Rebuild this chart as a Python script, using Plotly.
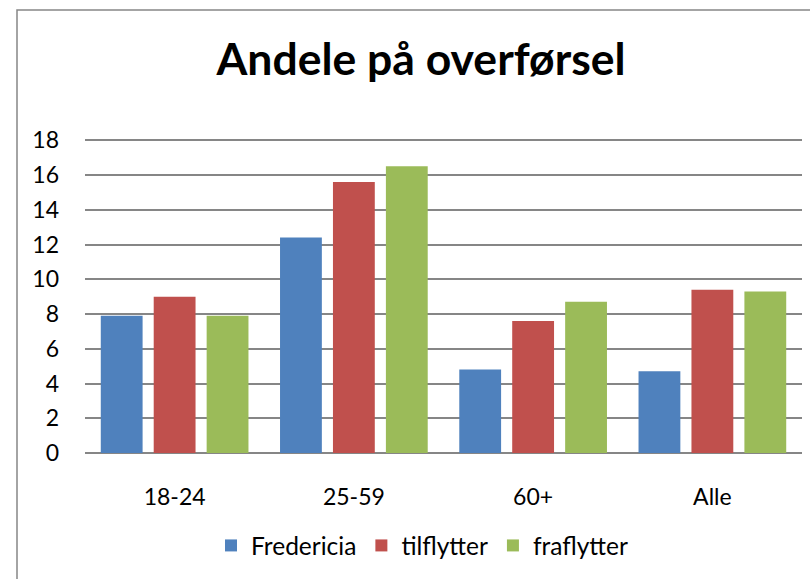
import plotly.graph_objects as go

categories = ["18-24", "25-59", "60+", "Alle"]
fredericia = [7.9, 12.4, 4.8, 4.7]
tilflytter = [9.0, 15.6, 7.6, 9.4]
fraflytter = [7.9, 16.5, 8.7, 9.3]
y_ticks = [0, 2, 4, 6, 8, 10, 12, 14, 16, 18]

W, H = 810, 579
ML, MR, MT, MB = 85, 8, 138, 126
Y0_PX, Y18_PX = 453, 140.3
FONT = "Lato, Carlito, Calibri, sans-serif"

fig = go.Figure()
for name, vals, col in [("Fredericia", fredericia, "#4F81BD"),
                        ("tilflytter", tilflytter, "#C0504D"),
                        ("fraflytter", fraflytter, "#9BBB59")]:
    fig.add_trace(go.Bar(x=categories, y=vals, name=name, marker_color=col,
                         marker_line_width=0))

pw = W - ML - MR
ph = H - MT - MB
unit = (Y0_PX - Y18_PX) / 18
ymax = ph / unit

def px_to_paper_x(px):
    return (px - ML) / pw
def px_to_paper_y(py):
    return (H - MB - py) / ph

fig.update_layout(
    width=W, height=H,
    margin=dict(l=ML, r=MR, t=MT, b=MB, pad=0),
    paper_bgcolor="white", plot_bgcolor="white",
    font=dict(family=FONT, size=23, color="black"),
    barmode="group", bargap=0.114, bargroupgap=0.21,
    title=dict(text="<b>Andele på overførsel</b>", x=px_to_paper_x(421), xref="paper",
               xanchor="center", y=1 - 59.5 / H, yanchor="middle",
               font=dict(family=FONT, size=44.5, color="black")),
    showlegend=True,
    legend=dict(orientation="h", x=px_to_paper_x(422), xanchor="center",
                y=px_to_paper_y(545.5), yanchor="middle",
                font=dict(family=FONT, size=24.5), itemwidth=30,
                traceorder="normal"),
    xaxis=dict(showgrid=False, showline=False, ticks="", ticklabelstandoff=28,
               tickfont=dict(size=23)),
    yaxis=dict(range=[0, ymax], tickvals=y_ticks, showgrid=True, gridcolor="#868686",
               gridwidth=1.5, zeroline=True, zerolinecolor="#868686", zerolinewidth=1.5,
               showline=False, ticks="", ticklabelstandoff=25, tickfont=dict(size=23)),
    shapes=[dict(type="rect", xref="paper", yref="paper",
                 x0=px_to_paper_x(17), x1=px_to_paper_x(W + 20),
                 y0=px_to_paper_y(H + 20), y1=px_to_paper_y(10),
                 line=dict(color="#868686", width=1.5), fillcolor="rgba(0,0,0,0)",
                 layer="below")],
)

fig.write_html("out.html", config={"displayModeBar": False},
               post_script="document.body.style.margin='0';")
